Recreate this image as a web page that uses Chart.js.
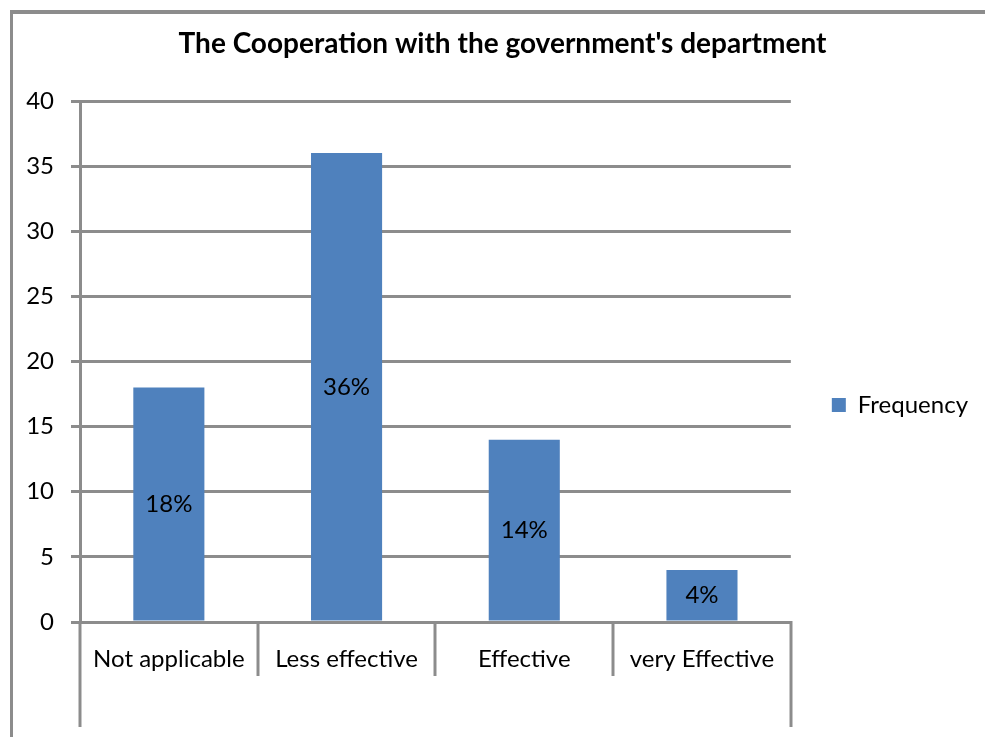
<!DOCTYPE html>
<html>
<head>
<meta charset="utf-8">
<title>The Cooperation with the government's department</title>
<script src="https://cdn.jsdelivr.net/npm/chart.js@4.4.1/dist/chart.umd.min.js"></script>
<style>
  html, body { margin: 0; padding: 0; background: #fff; }
  #wrap { position: relative; width: 985px; height: 737px; overflow: hidden; }
  #wrap canvas { position: absolute; left: 0; top: 0; }
  /* outer chart frame: only the top and left edges fall inside the page */
  #frame { position: absolute; left: 10px; top: 10px; right: -10px; bottom: -10px;
           border-top: 4px solid #8c8c8c; border-left: 3px solid #8c8c8c; pointer-events: none; }
</style>
</head>
<body>
<div id="wrap">
  <canvas id="chart" width="985" height="737"></canvas>
  <div id="frame"></div>
</div>
<script>
// ---- data ----
const chartTitle = "The Cooperation with the government's department";
const categories = ['Not applicable', 'Less effective', 'Effective', 'very Effective'];
const seriesName = 'Frequency';
const frequency = [18, 36, 14, 4];
const yMin = 0;
const yMax = 40;
const yStep = 5;

// ---- styling ----
const GRID = '#8c8c8c';
const BAR = '#4f81bd';
const FONT = 'Lato, "Open Sans", sans-serif';
const TEXT_SIZE = 24;
const PAD = { top: 10, left: 10, right: 38, bottom: 10 };

// value labels centred inside each bar
const barLabels = {
  id: 'barLabels',
  afterDatasetsDraw(chart) {
    const ctx = chart.ctx;
    const meta = chart.getDatasetMeta(0);
    const values = chart.data.datasets[0].data;
    ctx.save();
    ctx.font = TEXT_SIZE + 'px ' + FONT;
    ctx.fillStyle = '#000';
    ctx.textAlign = 'center';
    ctx.textBaseline = 'middle';
    meta.data.forEach((bar, i) => {
      const { x, y, base } = bar.getProps(['x', 'y', 'base'], true);
      ctx.fillText(values[i] + '%', x, (y + base) / 2);
    });
    ctx.restore();
  }
};

// category separators below the axis; the outer two run to the bottom of the axis band
const categoryDividers = {
  id: 'categoryDividers',
  afterDraw(chart) {
    const xs = chart.scales.x;
    const area = chart.chartArea;
    const ctx = chart.ctx;
    const n = chart.data.labels.length;
    ctx.save();
    ctx.strokeStyle = GRID;
    ctx.lineWidth = 3;
    ctx.lineCap = 'butt';
    for (let i = 0; i <= n; i++) {
      const px = Math.round(xs.getPixelForValue(i - 0.5));
      const end = (i === 0 || i === n) ? xs.bottom : area.bottom + 54;
      ctx.beginPath();
      ctx.moveTo(px, area.bottom - 1);
      ctx.lineTo(px, end);
      ctx.stroke();
    }
    ctx.restore();
  }
};

// legend beside the plot, centred on the plot + axis band; title centred on the outer frame
const blockPlacement = {
  id: 'blockPlacement',
  afterLayout(chart) {
    const area = chart.chartArea;
    const xs = chart.scales.x;
    const lg = chart.legend;
    if (lg) {
      const h = lg.height;
      const mid = (area.top + xs.bottom) / 2 - 9;
      lg.top = mid - h / 2;
      lg.bottom = mid + h / 2;
      const w = lg.width;
      lg.left = area.right + 31;
      lg.right = lg.left + w;
    }
    const tb = chart.titleBlock;
    if (tb) {
      const shift = 24;
      tb.left += shift;
      tb.right += shift;
    }
  }
};

new Chart(document.getElementById('chart'), {
  type: 'bar',
  data: {
    labels: categories,
    datasets: [{
      label: seriesName,
      data: frequency,
      backgroundColor: BAR,
      borderWidth: 0,
      categoryPercentage: 1,
      barPercentage: 0.4
    }]
  },
  options: {
    responsive: false,
    animation: false,
    devicePixelRatio: 1,
    layout: { padding: PAD },
    plugins: {
      title: {
        display: true,
        text: chartTitle,
        color: '#000',
        font: { family: FONT, size: 28, weight: 'bold' },
        padding: { top: 17, bottom: 40.4 }
      },
      legend: {
        display: true,
        position: 'right',
        labels: {
          color: '#000',
          font: { family: FONT, size: TEXT_SIZE },
          boxWidth: 14,
          boxHeight: 14,
          padding: 10
        }
      },
      tooltip: { enabled: false }
    },
    scales: {
      x: {
        grid: { display: false },
        border: { display: true, color: GRID, width: 3 },
        ticks: {
          color: '#000',
          font: { family: FONT, size: TEXT_SIZE },
          padding: 15,
          maxRotation: 0,
          autoSkip: false
        },
        afterFit(scale) { scale.height = 105; }
      },
      y: {
        min: yMin,
        max: yMax,
        ticks: {
          stepSize: yStep,
          color: '#000',
          font: { family: FONT, size: TEXT_SIZE },
          padding: 17
        },
        grid: { color: GRID, lineWidth: 3, tickLength: 9 },
        border: { display: true, color: GRID, width: 3 },
        afterFit(scale) { scale.width = 80 - PAD.left; }
      }
    }
  },
  plugins: [barLabels, categoryDividers, blockPlacement]
});
</script>
</body>
</html>
